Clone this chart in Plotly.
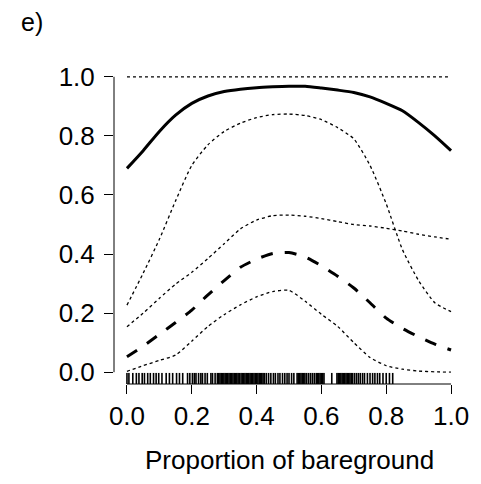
import plotly.graph_objects as go

# ---- data ----
x_grid = [0.0, 0.05, 0.1, 0.15, 0.2, 0.25, 0.3, 0.35, 0.4, 0.45, 0.5,
          0.55, 0.6, 0.65, 0.7, 0.75, 0.8, 0.85, 0.9, 0.95, 1.0]

upper_solid = [0.69, 0.75, 0.815, 0.87, 0.91, 0.935, 0.95, 0.958, 0.963, 0.966, 0.968,
               0.968, 0.962, 0.955, 0.947, 0.932, 0.91, 0.885, 0.845, 0.8, 0.75]
upper_ci = [0.227, 0.335, 0.45, 0.58, 0.70, 0.77, 0.815, 0.843, 0.862, 0.872, 0.874,
            0.869, 0.855, 0.828, 0.79, 0.70, 0.57, 0.415, 0.31, 0.235, 0.205]
middle_ci = [0.154, 0.20, 0.25, 0.298, 0.338, 0.385, 0.435, 0.485, 0.515, 0.53, 0.532,
             0.528, 0.52, 0.51, 0.50, 0.495, 0.487, 0.478, 0.467, 0.458, 0.45]
mean_dashed = [0.052, 0.088, 0.128, 0.168, 0.21, 0.262, 0.31, 0.355, 0.383, 0.402, 0.405,
               0.39, 0.36, 0.325, 0.285, 0.235, 0.183, 0.148, 0.12, 0.095, 0.075]
lower_ci = [0.003, 0.022, 0.04, 0.058, 0.105, 0.155, 0.195, 0.228, 0.255, 0.273, 0.277,
            0.24, 0.196, 0.155, 0.10, 0.05, 0.022, 0.01, 0.004, 0.001, 0.0]
ref_x = [0.0, 1.0]
ref_line = [1.0, 1.0]

rug = [0.0, 0.006, 0.018, 0.029, 0.037, 0.047, 0.054, 0.064, 0.072, 0.082, 0.09, 0.098,
       0.108, 0.121, 0.131, 0.141, 0.153, 0.162, 0.172, 0.187, 0.194, 0.202, 0.208,
       0.213, 0.221, 0.228, 0.233, 0.241, 0.248, 0.259, 0.264, 0.272, 0.279,
       0.283, 0.287, 0.291, 0.295, 0.299, 0.303, 0.307, 0.311, 0.315, 0.319, 0.323,
       0.327, 0.331, 0.335, 0.339, 0.343, 0.347,
       0.352, 0.356, 0.360, 0.364, 0.368, 0.372, 0.376, 0.380, 0.384, 0.388, 0.392,
       0.396, 0.400, 0.404, 0.408,
       0.412, 0.416, 0.420, 0.424, 0.430, 0.437, 0.444, 0.452, 0.458, 0.466, 0.472, 0.48,
       0.487, 0.494, 0.50, 0.508, 0.515,
       0.525, 0.529, 0.533, 0.537, 0.541, 0.545, 0.549, 0.554, 0.56, 0.566, 0.572,
       0.578, 0.584, 0.588, 0.592, 0.596, 0.600, 0.604, 0.608, 0.632,
       0.648, 0.652, 0.656, 0.660, 0.664, 0.668, 0.672, 0.676, 0.680, 0.684, 0.688,
       0.692, 0.696, 0.702, 0.708, 0.714, 0.72, 0.727, 0.733,
       0.742, 0.75, 0.758, 0.765, 0.773, 0.78, 0.79, 0.80, 0.81, 0.82]

tick_vals = [0.0, 0.2, 0.4, 0.6, 0.8, 1.0]
tick_text = ["0.0", "0.2", "0.4", "0.6", "0.8", "1.0"]
x_title = "Proportion of bareground"
panel_label = "e)"

FONT = "Liberation Sans, Arial, sans-serif"
dot = "3px,3px"

fig = go.Figure()
fig.add_trace(go.Scatter(x=ref_x, y=ref_line, mode="lines",
                         line=dict(color="black", width=1.3, dash=dot)))
fig.add_trace(go.Scatter(x=x_grid, y=upper_solid, mode="lines",
                         line=dict(color="black", width=3, shape="spline", smoothing=0.6)))
for series in (upper_ci, middle_ci, lower_ci):
    fig.add_trace(go.Scatter(x=x_grid, y=series, mode="lines",
                             line=dict(color="black", width=1.3, dash=dot,
                                       shape="spline", smoothing=0.6)))
fig.add_trace(go.Scatter(x=x_grid, y=mean_dashed, mode="lines",
                         line=dict(color="black", width=3, dash="12px,12px",
                                   shape="spline", smoothing=0.6)))

# rug
rx, ry = [], []
for v in rug:
    rx += [v, v, None]
    ry += [0, 1, None]
fig.add_trace(go.Scatter(x=rx, y=ry, mode="lines", yaxis="y2",
                         line=dict(color="black", width=1.6)))

axis_common = dict(
    range=[-0.04, 1.04], tickvals=tick_vals, ticktext=tick_text,
    ticks="outside", ticklen=9, tickwidth=1, tickcolor="black",
    showgrid=False, zeroline=False, showline=False,
    tickfont=dict(family=FONT, size=26, color="black"),
)

fig.update_layout(
    width=473, height=476,
    margin=dict(l=106, r=15, t=57, b=100),
    plot_bgcolor="white", paper_bgcolor="white",
    showlegend=False,
    xaxis=dict(**axis_common),
    yaxis=dict(**axis_common, ticklabelstandoff=4),
    yaxis2=dict(domain=[0, 0.035], range=[0, 1], visible=False, fixedrange=True),
    shapes=[
        dict(type="line", xref="paper", x0=0, x1=0, yref="y", y0=0, y1=1,
             line=dict(color="black", width=1)),
        dict(type="line", yref="paper", y0=0, y1=0, xref="x", x0=0, x1=1,
             line=dict(color="black", width=1)),
    ],
    annotations=[
        dict(text=x_title, xref="paper", yref="paper", x=0.5, y=-0.238,
             xanchor="center", yanchor="middle", showarrow=False,
             font=dict(family=FONT, size=26, color="black")),
        dict(text=panel_label, xref="paper", yref="paper", x=-0.233, y=1.135,
             xanchor="center", yanchor="middle", showarrow=False,
             font=dict(family=FONT, size=25, color="black")),
    ],
)

fig.write_html("out.html")
